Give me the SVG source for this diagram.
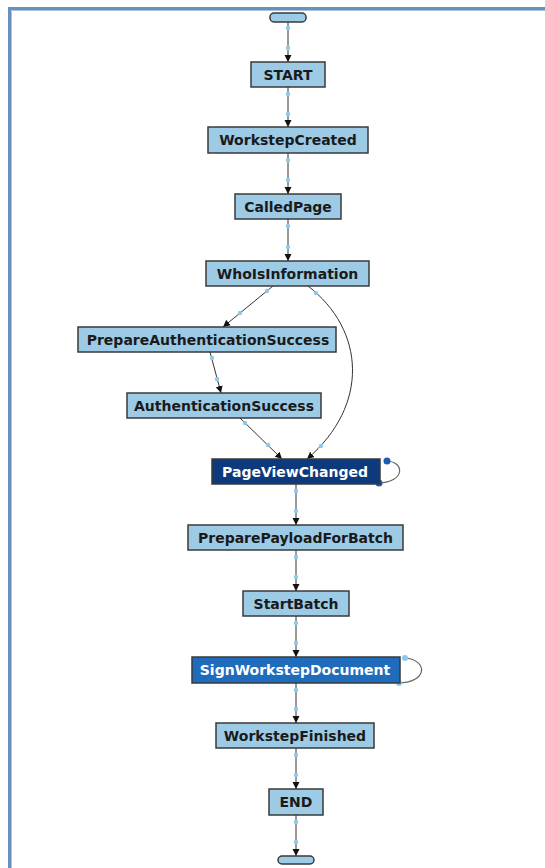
<svg xmlns="http://www.w3.org/2000/svg" width="545" height="868" viewBox="0 0 545 868">
<style>
.n{fill:#9dcbe5;stroke:#3a3a3a;stroke-width:1.5}
.d1{fill:#0c3a7c;stroke:#3a3a3a;stroke-width:1.5}
.d2{fill:#1f6cbd;stroke:#3a3a3a;stroke-width:1.5}
.t{font-family:"DejaVu Sans",Verdana,sans-serif;font-weight:bold;font-size:14px;fill:#1a1a1a;text-anchor:middle}
.tw{fill:#ffffff}
.e{fill:none;stroke:#333;stroke-width:1}
.lp{fill:none;stroke:#666;stroke-width:1.2}
.h{fill:#8fc9ea}
.hb{fill:#1a5cb0}
</style>
<defs>
<marker id="ar" markerWidth="8" markerHeight="8" refX="7" refY="4" orient="auto" markerUnits="userSpaceOnUse">
<path d="M0,0.5 L7,4 L0,7.5 Z" fill="#111"/>
</marker>
</defs>
<rect width="545" height="868" fill="#ffffff"/>
<g id="frame">
<path d="M9.5,868 V8.5 H545" fill="none" stroke="#6890bd" stroke-width="3"/>
<path d="M11.5,868 V10.5 H545" fill="none" stroke="#a9c3df" stroke-width="1"/>
</g>
<g id="connectors">
<path class="e" d="M288,22 V62" marker-end="url(#ar)"/>
<path class="e" d="M288,87 V127" marker-end="url(#ar)"/>
<path class="e" d="M288,153 V194" marker-end="url(#ar)"/>
<path class="e" d="M288,219 V261" marker-end="url(#ar)"/>
<path class="e" d="M273,286 L223,327" marker-end="url(#ar)"/>
<path class="e" d="M210,352 L221,393" marker-end="url(#ar)"/>
<path class="e" d="M240,418 L282,459" marker-end="url(#ar)"/>
<path class="e" d="M308,286 C365,330 370,405 307,459" marker-end="url(#ar)"/>
<path class="e" d="M296,484 V525" marker-end="url(#ar)"/>
<path class="e" d="M296,550 V591" marker-end="url(#ar)"/>
<path class="e" d="M296,616 V657" marker-end="url(#ar)"/>
<path class="e" d="M296,683 V723" marker-end="url(#ar)"/>
<path class="e" d="M296,748 V789" marker-end="url(#ar)"/>
<path class="e" d="M296,815 V856" marker-end="url(#ar)"/>
<path class="lp" d="M387,461 C405,462 405,482 379,483"/>
<path class="lp" d="M405,658 C428,660 428,682 399,683"/>
<g id="handles">
<circle class="h" cx="288" cy="28" r="2.2"/><circle class="h" cx="288" cy="48" r="2.2"/>
<circle class="h" cx="288" cy="94" r="2.2"/><circle class="h" cx="288" cy="114" r="2.2"/>
<circle class="h" cx="288" cy="160" r="2.2"/><circle class="h" cx="288" cy="180" r="2.2"/>
<circle class="h" cx="288" cy="226" r="2.2"/><circle class="h" cx="288" cy="247" r="2.2"/>
<circle class="h" cx="267" cy="291" r="2.2"/><circle class="h" cx="240" cy="313" r="2.2"/>
<circle class="h" cx="212" cy="358" r="2.2"/><circle class="h" cx="217" cy="379" r="2.2"/>
<circle class="h" cx="245" cy="423" r="2.2"/><circle class="h" cx="268" cy="445" r="2.2"/>
<circle class="h" cx="316" cy="293" r="2.2"/><circle class="h" cx="321" cy="446" r="2.2"/>
<circle class="h" cx="296" cy="491" r="2.2"/><circle class="h" cx="296" cy="511" r="2.2"/>
<circle class="h" cx="296" cy="557" r="2.2"/><circle class="h" cx="296" cy="577" r="2.2"/>
<circle class="h" cx="296" cy="623" r="2.2"/><circle class="h" cx="296" cy="643" r="2.2"/>
<circle class="h" cx="296" cy="690" r="2.2"/><circle class="h" cx="296" cy="709" r="2.2"/>
<circle class="h" cx="296" cy="755" r="2.2"/><circle class="h" cx="296" cy="775" r="2.2"/>
<circle class="h" cx="296" cy="822" r="2.2"/><circle class="h" cx="296" cy="842" r="2.2"/>
<circle class="hb" cx="387" cy="461" r="3.5"/><circle class="hb" cx="379" cy="483" r="3.5"/>
<circle class="h" cx="405" cy="658" r="3"/><circle class="h" cx="399" cy="683" r="3"/>
</g>
</g>
<g id="n_begin"><rect class="n" x="270" y="13" width="36" height="9" rx="4"/></g>
<g id="n_start"><rect class="n" x="251" y="62" width="74" height="25"/><text class="t" x="288" y="79.5">START</text></g>
<g id="n_workstepcreated"><rect class="n" x="208" y="127" width="160" height="26"/><text class="t" x="288" y="145">WorkstepCreated</text></g>
<g id="n_calledpage"><rect class="n" x="235" y="194" width="106" height="25"/><text class="t" x="288" y="211.5">CalledPage</text></g>
<g id="n_whoisinformation"><rect class="n" x="206" y="261" width="163" height="25"/><text class="t" x="287.5" y="278.5">WhoIsInformation</text></g>
<g id="n_prepareauth"><rect class="n" x="78" y="327" width="258" height="25"/><text class="t" x="208" y="344.5">PrepareAuthenticationSuccess</text></g>
<g id="n_authsuccess"><rect class="n" x="127" y="393" width="194" height="25"/><text class="t" x="224" y="410.5">AuthenticationSuccess</text></g>
<g id="n_pageviewchanged"><rect class="d1" x="212" y="459" width="168" height="25"/><text class="t tw" x="295" y="476.5">PageViewChanged</text></g>
<g id="n_preparepayload"><rect class="n" x="188" y="525" width="215" height="25"/><text class="t" x="295.5" y="542.5">PreparePayloadForBatch</text></g>
<g id="n_startbatch"><rect class="n" x="243" y="591" width="106" height="25"/><text class="t" x="296" y="608.5">StartBatch</text></g>
<g id="n_signworkstep"><rect class="d2" x="192" y="657" width="208" height="26"/><text class="t tw" x="295" y="675">SignWorkstepDocument</text></g>
<g id="n_workstepfinished"><rect class="n" x="216" y="723" width="158" height="25"/><text class="t" x="295" y="740.5">WorkstepFinished</text></g>
<g id="n_end"><rect class="n" x="269" y="789" width="54" height="26"/><text class="t" x="296" y="807">END</text></g>
<g id="n_finish"><rect class="n" x="278" y="856" width="36" height="8" rx="4"/></g>
</svg>
